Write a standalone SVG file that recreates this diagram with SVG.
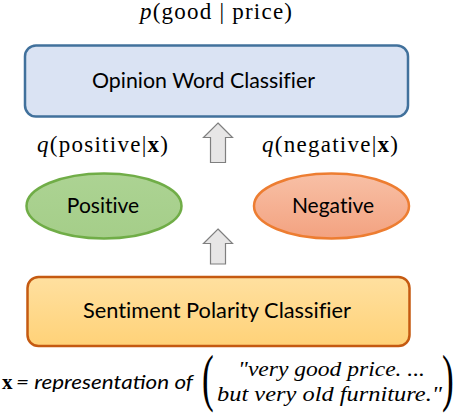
<svg xmlns="http://www.w3.org/2000/svg" width="456" height="414" viewBox="0 0 456 414">
<defs>
<linearGradient id="gNeg" x1="0" y1="0" x2="0" y2="1"><stop offset="0" stop-color="#F8C0A6"/><stop offset="1" stop-color="#F3A280"/></linearGradient>
<linearGradient id="gPos" x1="0" y1="0" x2="0" y2="1"><stop offset="0" stop-color="#ACD393"/><stop offset="1" stop-color="#A5CE89"/></linearGradient>
<linearGradient id="gSent" x1="0" y1="0" x2="0" y2="1"><stop offset="0" stop-color="#FFE0A0"/><stop offset="1" stop-color="#FFD278"/></linearGradient>
<style>
.lbl{font-family:Lato,"Liberation Sans",sans-serif;font-size:21px;fill:#000;text-anchor:middle;font-variant-ligatures:none}
.math{font-family:"Liberation Serif","DejaVu Serif",serif;font-size:23px;fill:#000}
.it{font-family:"Liberation Serif",serif;font-size:22px;font-style:italic;fill:#000}
.arrow{fill:#E7E6E6;stroke:#7F7F7F;stroke-width:1.2}
</style>
</defs>
<text class="math" x="140" y="19" textLength="152" lengthAdjust="spacing"><tspan font-style="italic">p</tspan>(good | price)</text>
<g id="opinion">
<rect x="25" y="45.5" width="383" height="71" rx="11" fill="#DAE3F3" stroke="#41719C" stroke-width="2.5"/>
<text class="lbl" x="203.5" y="88" textLength="223" lengthAdjust="spacingAndGlyphs">Opinion Word Classifier</text>
</g>
<text class="math" x="37" y="152" textLength="131" lengthAdjust="spacing"><tspan font-style="italic">q</tspan>(positive|<tspan font-weight="bold">x</tspan>)</text>
<text class="math" x="262" y="152" textLength="136" lengthAdjust="spacing"><tspan font-style="italic">q</tspan>(negative|<tspan font-weight="bold">x</tspan>)</text>
<g id="positive">
<ellipse cx="104" cy="206" rx="77.5" ry="32.5" fill="url(#gPos)" stroke="#70AD47" stroke-width="2.5"/>
<text class="lbl" x="103" y="213">Positive</text>
</g>
<g id="negative">
<ellipse cx="331.5" cy="206" rx="77.5" ry="32.5" fill="url(#gNeg)" stroke="#ED7D31" stroke-width="2.5"/>
<text class="lbl" x="333" y="213">Negative</text>
</g>
<g id="sentiment">
<rect x="27.5" y="277" width="382" height="69" rx="11" fill="url(#gSent)" stroke="#C55A11" stroke-width="2.5"/>
<text class="lbl" x="217" y="318" textLength="268" lengthAdjust="spacingAndGlyphs">Sentiment Polarity Classifier</text>
</g>
<g id="connectors">
<path class="arrow" d="M218 123 L232.5 137.5 L225.5 137.5 L225.5 162.5 L210.5 162.5 L210.5 137.5 L203.5 137.5 Z"/>
<path class="arrow" d="M218 229 L232.5 243.5 L225.5 243.5 L225.5 264 L210.5 264 L210.5 243.5 L203.5 243.5 Z"/>
</g>
<text x="2" y="389" font-family="Liberation Serif,serif" font-size="21" font-weight="bold">x</text>
<text x="16" y="389" font-family="Lato,'Liberation Sans',sans-serif" font-size="20" font-style="italic" textLength="177" lengthAdjust="spacingAndGlyphs">= representation of</text>
<text font-family="Liberation Serif,serif" font-size="44" transform="translate(202,399) scale(0.8,1.45)">(</text>
<text font-family="Liberation Serif,serif" font-size="44" transform="translate(442,399) scale(0.8,1.45)">)</text>
<text class="it" x="238" y="376" textLength="187" lengthAdjust="spacingAndGlyphs">"very good price. ...</text>
<text class="it" x="217" y="401" textLength="225" lengthAdjust="spacingAndGlyphs">but very old furniture."</text>
</svg>
